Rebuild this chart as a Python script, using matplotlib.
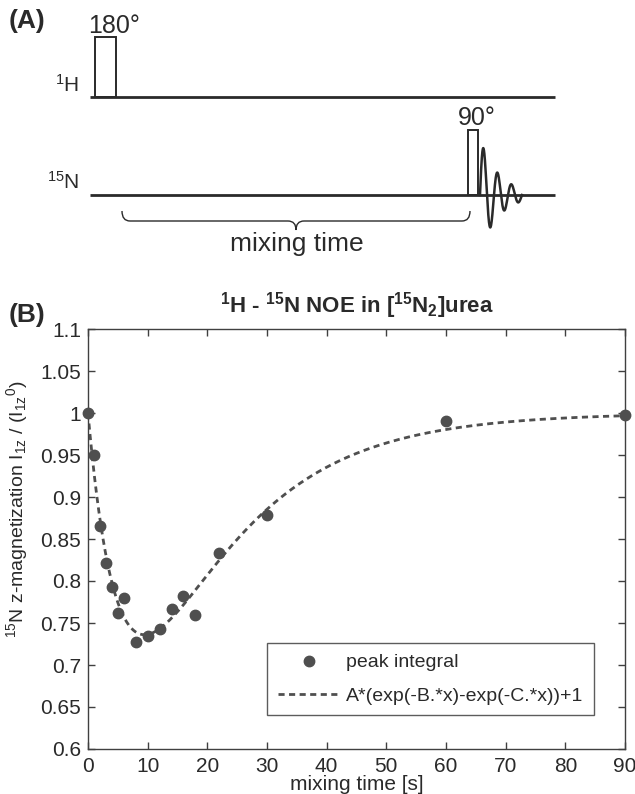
import numpy as np
import matplotlib
matplotlib.use('Agg')
import matplotlib.pyplot as plt
from matplotlib.patches import Rectangle, PathPatch
from matplotlib.path import Path

plt.rcParams['font.family'] = ['Liberation Sans', 'DejaVu Sans']
plt.rcParams['mathtext.default'] = 'regular'

# measured 15N peak integrals vs mixing time
mix_time = [0, 1, 2, 3, 4, 5, 6, 8, 10, 12, 14, 16, 18, 22, 30, 60, 90]
peak_int = [1.0, 0.95, 0.866, 0.821, 0.793, 0.762, 0.78, 0.727, 0.735,
            0.743, 0.767, 0.782, 0.759, 0.833, 0.879, 0.991, 0.998]

# fit: A*(exp(-B.*x)-exp(-C.*x))+1
fit_A, fit_B, fit_C = -0.72, 0.06, 0.17

x_ticks = [0, 10, 20, 30, 40, 50, 60, 70, 80, 90]
y_ticks = [0.6, 0.65, 0.7, 0.75, 0.8, 0.85, 0.9, 0.95, 1.0, 1.05, 1.1]
y_ticklabels = ['0.6', '0.65', '0.7', '0.75', '0.8', '0.85', '0.9', '0.95', '1', '1.05', '1.1']

GREY = '#4f4f4f'
INK = '#2a2a2a'

fig = plt.figure(figsize=(6.35, 7.94), dpi=100)

# ---------- (A) pulse sequence, drawn in pixel units ----------
axa = fig.add_axes([0, 1 - 270 / 794, 1, 270 / 794])
axa.set_xlim(0, 635)
axa.set_ylim(270, 0)
axa.axis('off')

h_y, n_y = 97, 195
axa.plot([90, 555], [h_y, h_y], color=INK, lw=2.0, solid_capstyle='butt')
axa.plot([90, 555], [n_y, n_y], color=INK, lw=2.0, solid_capstyle='butt')
axa.add_patch(Rectangle((95, 37), 21, h_y - 37, fill=False, ec=INK, lw=1.4))
axa.add_patch(Rectangle((468, 130), 10, n_y - 130, fill=False, ec=INK, lw=1.4))

# FID after the 90 degree pulse
t = np.linspace(0, 42, 300)
axa.plot(480 + t, n_y - 56 * np.exp(-t / 19) * np.sin(2 * np.pi * t / 14),
         color=INK, lw=1.8)

# brace for mixing time
x0, x1, xm, ytop, ymid, ytip = 122, 470, 296, 211, 221, 230
verts = [(x0, ytop), (x0, ymid), (x0 + 8, ymid), (xm - 8, ymid),
         (xm, ymid), (xm, ytip), (xm, ymid), (xm + 8, ymid),
         (x1 - 8, ymid), (x1, ymid), (x1, ytop)]
codes = [Path.MOVETO, Path.CURVE3, Path.CURVE3, Path.LINETO,
         Path.CURVE3, Path.CURVE3, Path.CURVE3, Path.CURVE3,
         Path.LINETO, Path.CURVE3, Path.CURVE3]
axa.add_patch(PathPatch(Path(verts, codes), fill=False, ec=INK, lw=1.0))

axa.text(88, 33, '180°', fontsize=18, color=INK, ha='left', va='baseline')
axa.text(458, 125, '90°', fontsize=18, color=INK, ha='left', va='baseline')
axa.text(79, 92, '$^{1}$H', fontsize=15, color=INK, ha='right', va='baseline')
axa.text(79, 189, '$^{15}$N', fontsize=15, color=INK, ha='right', va='baseline')
axa.text(297, 251, 'mixing time', fontsize=19, color=INK, ha='center', va='baseline')

fig.text(9 / 635, 1 - 21 / 794, '(A)', fontsize=19, fontweight='bold', color=INK, va='center')
fig.text(9 / 635, 1 - 315 / 794, '(B)', fontsize=19, fontweight='bold', color=INK, va='center')

# ---------- (B) NOE build-up ----------
ax = fig.add_axes([88 / 635, 1 - 749 / 794, 537 / 635, 420 / 794])

x_fit = np.linspace(0, 90, 500)
y_fit = fit_A * (np.exp(-fit_B * x_fit) - np.exp(-fit_C * x_fit)) + 1

ax.plot(mix_time, peak_int, 'o', color=GREY, ms=7.5, mec=GREY,
        clip_on=False, zorder=3, label='peak integral')
ax.plot(x_fit, y_fit, color=GREY, lw=2.0, ls=(0, (2.2, 1.6)),
        label='A*(exp(-B.*x)-exp(-C.*x))+1')

ax.set_xlim(0, 90)
ax.set_ylim(0.6, 1.1)
ax.set_xticks(x_ticks)
ax.set_yticks(y_ticks)
ax.set_yticklabels(y_ticklabels)
ax.tick_params(direction='in', top=True, right=True, length=5, width=1.0,
               colors='#404040', labelcolor=INK, labelsize=15)
ax.tick_params(axis='x', pad=6)
ax.tick_params(axis='y', pad=5)
for s in ax.spines.values():
    s.set_color('#404040')
    s.set_linewidth(1.0)

ax.set_title('$^{1}$H - $^{15}$N NOE in [$^{15}$N$_{2}$]urea',
             fontsize=16, fontweight='bold', color=INK, pad=12)
ax.set_xlabel('mixing time [s]', fontsize=15, color=INK, labelpad=-1)
ax.set_ylabel('$^{15}$N z-magnetization I$_{1z}$ / (I$_{1z}$$^{0}$)',
              fontsize=14, color=INK)
ax.yaxis.set_label_coords(-0.108, 0.57)

leg = ax.legend(loc='upper left', bbox_to_anchor=(0.333, 0.252),
                fontsize=14, frameon=True, fancybox=False, borderpad=0.55,
                handlelength=3.2, handletextpad=0.3, labelspacing=0.8,
                borderaxespad=0)
leg.get_frame().set_edgecolor('#333333')
leg.get_frame().set_linewidth(1.0)
for txt in leg.get_texts():
    txt.set_color(INK)

fig.savefig('out.png', dpi=100)
